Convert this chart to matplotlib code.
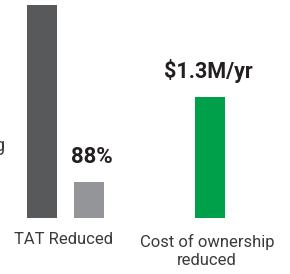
import matplotlib.pyplot as plt

# bar values (relative heights)
groups = ["TAT Reduced", "Cost of ownership\nreduced"]
tat_before = 100
tat_after = 17
cost_saved = 57
tat_label = "88%"
cost_label = "$1.3M/yr"

dark = "#58595b"
light = "#939598"
green = "#00a04b"
text_dark = "#231f20"
text_grey = "#3a3a3c"

plt.rcParams['font.family'] = ['Roboto', 'DejaVu Sans']

fig = plt.figure(figsize=(2.9, 2.74), dpi=100)
ax = fig.add_axes([0, 56 / 274, 1, 213 / 274])

w = 0.2076
off = 0.16
ax.bar(0 - off, tat_before, width=w, color=dark)
ax.bar(0 + off, tat_after, width=w, color=light)
ax.bar(1, cost_saved, width=w, color=green)

ax.text(0 + off + 0.02, tat_after + 6.5, tat_label, ha='center', va='bottom',
        fontsize=16, fontweight='bold', color=text_dark)
ax.text(1 - 0.01, cost_saved + 6.5, cost_label, ha='center', va='bottom',
        fontsize=15.5, fontweight='bold', color=text_dark)

ax.set_xlim(-0.453, 1.553)
ax.set_ylim(0, 100)
ax.axis('off')

fig.text(64 / 290, 1 - 240 / 274, groups[0], ha='center', va='center',
         fontsize=12, color=text_grey)
fig.text(207 / 290, 1 - 251 / 274, groups[1], ha='center', va='center',
         fontsize=12, color=text_grey, linespacing=1.3)
# clipped label fragment at the left edge
fig.text(4 / 290, 1 - 146 / 274, "g", ha='right', va='center',
         fontsize=13, color=text_grey)

fig.savefig("out.png", dpi=100)
